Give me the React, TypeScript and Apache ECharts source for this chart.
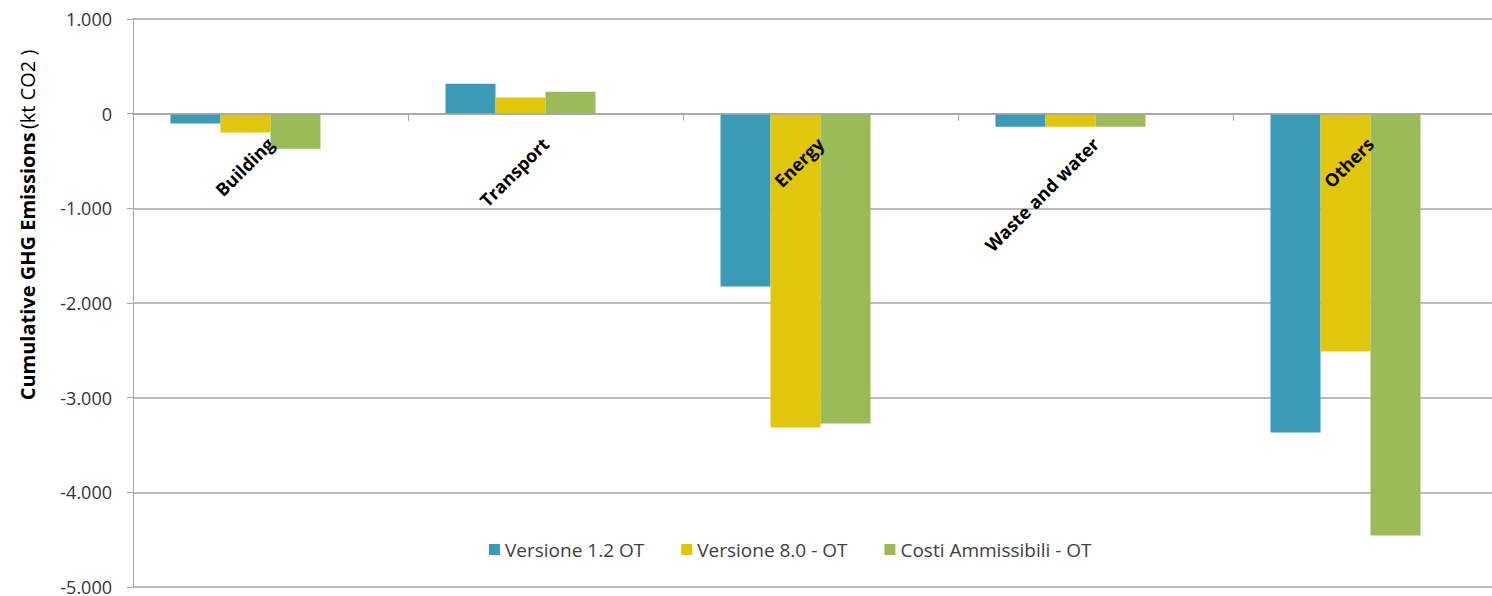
import React, { useEffect, useRef } from "react";
import * as echarts from "echarts";

const categories = ["Building", "Transport", "Energy", "Waste and water", "Others"];
const seriesNames = ["Versione 1.2 OT", "Versione 8.0 - OT", "Costi Ammissibili - OT"];
const versione12 = [-105, 317, -1827, -137, -3369];
const versione80 = [-200, 170, -3316, -137, -2513];
const costiAmmissibili = [-370, 232, -3274, -137, -4456];
// the source chart reserves a fourth, empty slot in every group
const emptySlot = [null, null, null, null, null];
const colors = ["#3A9BB6", "#E0C70C", "#9BBB59"];
const yMin = -5000;
const yMax = 1000;
const yStep = 1000;

const gridTop = 19;
const gridHeight = 568;

function fmt(v: number): string {
  const s = Math.abs(v).toString().replace(/\B(?=(\d{3})+(?!\d))/g, ".");
  return (v < 0 ? "-" : "") + s;
}

export default function App() {
  const ref = useRef<HTMLDivElement>(null);
  useEffect(() => {
    if (!ref.current) return;
    const chart = echarts.init(ref.current, undefined, { renderer: "svg" });
    const data = [versione12, versione80, costiAmmissibili];
    const zeroOffset = -gridHeight * (0 - yMin) / (yMax - yMin);
    chart.setOption({
      animation: false,
      backgroundColor: "#ffffff",
      grid: {
        left: 133,
        top: gridTop,
        width: 1375,
        height: gridHeight,
        containLabel: false,
        outerBoundsMode: "none",
      },
      legend: {
        left: 484,
        top: 535,
        itemWidth: 11,
        itemHeight: 11,
        itemGap: 37,
        icon: "rect",
        textStyle: {
          fontFamily: "'Open Sans', sans-serif",
          fontSize: 19,
          color: "#404040",
        },
        data: seriesNames,
      },
      xAxis: {
        type: "category",
        data: categories,
        offset: zeroOffset,
        z: 10,
        axisLine: { onZero: false, lineStyle: { color: "#A6A6A6", width: 1.5 } },
        axisTick: { show: true, length: 7, alignWithLabel: false, lineStyle: { color: "#A6A6A6" } },
        axisLabel: {
          rotate: 45,
          margin: 27,
          interval: 0,
          fontFamily: "'Open Sans', sans-serif",
          fontWeight: "bold",
          fontSize: 18,
          color: "#000000",
        },
        splitLine: { show: false },
      },
      yAxis: {
        type: "value",
        min: yMin,
        max: yMax,
        interval: yStep,
        axisLine: { show: true, lineStyle: { color: "#A6A6A6" } },
        axisTick: { show: true, length: 6, lineStyle: { color: "#A6A6A6" } },
        axisLabel: {
          margin: 21,
          fontFamily: "'Open Sans', sans-serif",
          fontSize: 18,
          lineHeight: 16,
          color: "#333333",
          formatter: (v: number) => fmt(v),
        },
        splitLine: { show: true, lineStyle: { color: "#A6A6A6", width: 1.5 } },
      },
      graphic: [
        {
          type: "text",
          x: 27,
          y: 225,
          rotation: Math.PI / 2,
          style: {
            text: "{b|Cumulative GHG Emissions} {n|(kt CO2 )}",
            align: "center",
            verticalAlign: "middle",
            rich: {
              b: { fontFamily: "'Open Sans', sans-serif", fontWeight: "bold", fontSize: 20, fill: "#000" },
              n: { fontFamily: "'Open Sans', sans-serif", fontSize: 20, fill: "#000" },
            },
          },
        },
      ],
      series: [
        ...seriesNames.map((name, i) => ({
          name,
          type: "bar",
          data: data[i],
          barWidth: 50,
          barGap: "0%",
          itemStyle: { color: colors[i] },
        })),
        {
          name: "empty",
          type: "bar",
          data: emptySlot,
          barWidth: 50,
          barGap: "0%",
          itemStyle: { color: "transparent" },
        },
      ],
    });
    return () => chart.dispose();
  }, []);
  return (
    <div
      ref={ref}
      style={{ position: "absolute", left: 0, top: 0, width: 1492, height: 596 }}
    />
  );
}
